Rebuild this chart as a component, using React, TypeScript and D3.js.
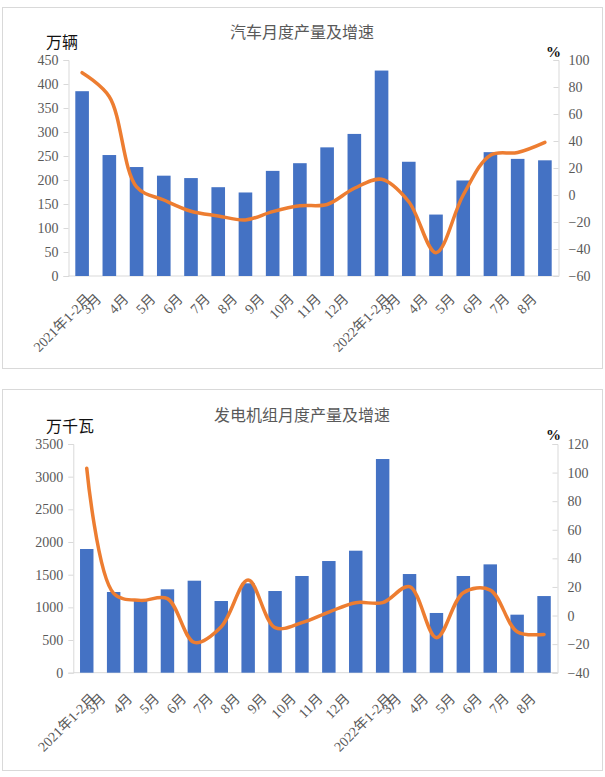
import React, { useRef, useEffect } from 'react';
import * as d3 from 'd3';

// x-axis categories (shared by both charts)
const categories = [
  '2021年1-2月', '3月', '4月', '5月', '6月', '7月', '8月', '9月', '10月', '11月', '12月',
  '2022年1-2月', '3月', '4月', '5月', '6月', '7月', '8月',
];

// 汽车: 产量 (万辆) and 增速 (%)
const carOutput = [385, 252, 227, 209, 204, 185, 174, 219, 235, 268, 296, 428, 238, 128, 199, 258, 244, 241];
const carGrowth = [90.6, 72.8, 6, -3.7, -12, -15.5, -18.5, -12.3, -8, -7, 5, 11.6, -5, -42.7, 0, 29.5, 31.5, 39];
const carLeftTicks = [0, 50, 100, 150, 200, 250, 300, 350, 400, 450];
const carRightTicks = [-60, -40, -20, 0, 20, 40, 60, 80, 100];

// 发电机组: 产量 (万千瓦) and 增速 (%)
const genOutput = [1893, 1235, 1097, 1276, 1408, 1097, 1368, 1250, 1480, 1709, 1867, 3270, 1510, 914, 1480, 1658, 888, 1173];
const genGrowth = [103, 15.5, 10.6, 11.8, -18.8, -7.8, 24.8, -8.5, -5, 2.4, 9, 9, 20.2, -15.5, 16, 17.8, -11.3, -13.2];
const genLeftTicks = [0, 500, 1000, 1500, 2000, 2500, 3000, 3500];
const genRightTicks = [-40, -20, 0, 20, 40, 60, 80, 100, 120];

const BAR = '#4472C4';
const LINE = '#ED7D31';
const GRID = '#d9d9d9';
const TXT = '#595959';
const NUM_FONT = '"Liberation Serif", "Noto Sans CJK SC", serif';
const CJK_FONT = '"Noto Sans CJK SC", sans-serif';

function drawPanel(svg, cfg) {
  const { bars, growth, leftTicks, rightTicks, box, plot } = cfg;

  svg.append('rect')
    .attr('x', box.left).attr('y', box.top)
    .attr('width', box.right - box.left).attr('height', box.bottom - box.top)
    .attr('fill', '#fff').attr('stroke', GRID).attr('stroke-width', 1);

  const x = d3.scaleBand()
    .domain(d3.range(categories.length))
    .range([plot.left, plot.right])
    .paddingInner(0.5).paddingOuter(0.25);
  const band = d3.scaleBand()
    .domain(d3.range(categories.length))
    .range([plot.left, plot.right]);
  const cx = (i) => band(i) + band.bandwidth() / 2;

  const yL = d3.scaleLinear()
    .domain([leftTicks[0], leftTicks[leftTicks.length - 1]])
    .range([plot.bottom, plot.top]);
  const yR = d3.scaleLinear()
    .domain([rightTicks[0], rightTicks[rightTicks.length - 1]])
    .range([plot.bottom, plot.top]);

  // left axis
  const gl = svg.append('g').attr('transform', `translate(${plot.left},0)`)
    .call(d3.axisLeft(yL).tickValues(leftTicks).tickSize(5).tickPadding(5).tickFormat(d3.format('d')));
  gl.select('.domain').attr('stroke', GRID);
  gl.selectAll('.tick line').attr('stroke', GRID);
  gl.selectAll('.tick text').attr('fill', TXT).attr('font-size', 14).attr('font-family', NUM_FONT);

  // right axis (ticks point inwards)
  const gr = svg.append('g').attr('transform', `translate(${plot.right},0)`)
    .call(d3.axisRight(yR).tickValues(rightTicks).tickSize(-5).tickPadding(10)
      .tickFormat((d) => (d < 0 ? '\u2212' + Math.abs(d) : String(d))));
  gr.select('.domain').attr('stroke', GRID);
  gr.selectAll('.tick line').attr('stroke', GRID);
  gr.selectAll('.tick text').attr('fill', TXT).attr('font-size', 14).attr('font-family', NUM_FONT);

  // baseline
  svg.append('line')
    .attr('x1', plot.left).attr('x2', plot.right)
    .attr('y1', plot.bottom).attr('y2', plot.bottom)
    .attr('stroke', GRID);

  // bars
  svg.append('g').selectAll('rect')
    .data(bars)
    .join('rect')
    .attr('x', (d, i) => x(i))
    .attr('width', x.bandwidth())
    .attr('y', (d) => yL(d))
    .attr('height', (d) => yL(0) - yL(d))
    .attr('fill', BAR);

  // smoothed growth line
  const line = d3.line()
    .x((d, i) => cx(i))
    .y((d) => yR(d))
    .curve(d3.curveCatmullRom.alpha(0.5));
  svg.append('path')
    .datum(growth)
    .attr('d', line)
    .attr('fill', 'none')
    .attr('stroke', LINE)
    .attr('stroke-width', 3.5)
    .attr('stroke-linecap', 'round')
    .attr('stroke-linejoin', 'round');

  // rotated category labels (box of the rotated text sits centred a bit left of the tick)
  const fs = 14;
  const h = fs * 0.8;
  const labelTop = plot.bottom + cfg.labelGap;
  categories.forEach((c, i) => {
    const t = svg.append('text')
      .attr('font-size', fs)
      .attr('font-family', NUM_FONT)
      .attr('fill', TXT)
      .attr('text-anchor', 'end')
      .text(c);
    const w = t.node().getComputedTextLength();
    const ex = cx(i) - 14 + 0.32 * w;
    const ey = labelTop + 0.707 * h;
    t.attr('transform', `translate(${ex},${ey}) rotate(-45)`);
  });

  // titles
  svg.append('text')
    .attr('x', cfg.titleX).attr('y', cfg.titleY)
    .attr('text-anchor', 'middle')
    .attr('font-size', 16).attr('font-family', CJK_FONT).attr('fill', TXT)
    .text(cfg.title);
  svg.append('text')
    .attr('x', 46).attr('y', cfg.unitY)
    .attr('font-size', 16).attr('font-family', CJK_FONT).attr('fill', '#111')
    .text(cfg.unit);
  svg.append('text')
    .attr('x', 546).attr('y', cfg.pctY)
    .attr('font-size', 15).attr('font-family', NUM_FONT).attr('font-weight', 'bold').attr('fill', '#111')
    .text('%');
}

function App() {
  const ref = useRef(null);

  useEffect(() => {
    const svg = d3.select(ref.current);
    svg.selectAll('*').remove();

    drawPanel(svg, {
      bars: carOutput,
      growth: carGrowth,
      leftTicks: carLeftTicks,
      rightTicks: carRightTicks,
      box: { left: 2.5, right: 602.5, top: 7.5, bottom: 368.5 },
      plot: { left: 68.5, right: 558.5, top: 60, bottom: 276 },
      labelGap: 16,
      title: '汽车月度产量及增速',
      titleX: 302,
      titleY: 38,
      unit: '万辆',
      unitY: 48,
      pctY: 57,
    });

    drawPanel(svg, {
      bars: genOutput,
      growth: genGrowth,
      leftTicks: genLeftTicks,
      rightTicks: genRightTicks,
      box: { left: 2.5, right: 602.5, top: 389.5, bottom: 770.5 },
      plot: { left: 73.3, right: 557.5, top: 444, bottom: 672.7 },
      labelGap: 19,
      title: '发电机组月度产量及增速',
      titleX: 302,
      titleY: 421,
      unit: '万千瓦',
      unitY: 432,
      pctY: 440,
    });
  }, []);

  return (
    <svg
      ref={ref}
      width={605}
      height={777}
      style={{ position: 'absolute', left: 0, top: 0, background: '#fff' }}
    ></svg>
  );
}

export default App;
